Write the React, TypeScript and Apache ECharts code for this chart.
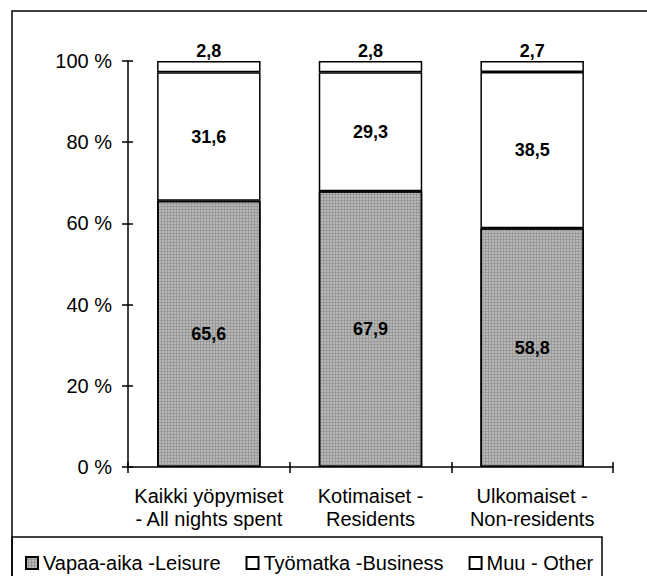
import React, { useEffect, useRef } from "react";
import * as echarts from "echarts";

const categories = [
  "Kaikki yöpymiset\n- All nights spent",
  "Kotimaiset -\nResidents",
  "Ulkomaiset -\nNon-residents",
];
const seriesNames = ["Vapaa-aika -Leisure", "Työmatka -Business", "Muu - Other"];
const leisure = [65.6, 67.9, 58.8];
const business = [31.6, 29.3, 38.5];
const other = [2.8, 2.8, 2.7];
const yMin = 0;
const yMax = 100;
const yStep = 20;

const FONT = "'Liberation Sans', Arial, sans-serif";
const fmt = (v: number) => v.toFixed(1).replace(".", ",");

export default function App() {
  const ref = useRef<HTMLDivElement>(null);
  useEffect(() => {
    if (!ref.current) return;
    const chart = echarts.init(ref.current, undefined, { renderer: "svg" });
    const barStyle = (color: string, decal?: any) => ({
      color,
      borderColor: "#000",
      borderWidth: 1.5,
      ...(decal ? { decal } : {}),
    });
    const label = (position: any) => ({
      show: true,
      position,
      distance: 1,
      formatter: (p: any) => fmt(p.value),
      fontFamily: FONT,
      fontSize: 18,
      fontWeight: "bold",
      color: "#000",
    });
    chart.setOption({
      animation: false,
      backgroundColor: "#fff",
      textStyle: { fontFamily: FONT },
      grid: { left: 128, right: 34, top: 61, bottom: 109 },
      xAxis: [
        {
          type: "category",
          data: categories,
          axisLine: { lineStyle: { color: "#000", width: 1.5 } },
          axisTick: { show: true, inside: false, length: 6, lineStyle: { color: "#000", width: 1.5 } },
          axisLabel: {
            interval: 0,
            color: "#000",
            fontSize: 20,
            fontFamily: FONT,
            lineHeight: 23,
            margin: 17,
          },
        },
        {
          type: "category",
          data: categories,
          position: "bottom",
          axisLine: { show: false },
          axisTick: { show: true, inside: true, length: 5, lineStyle: { color: "#000", width: 1.5 } },
          axisLabel: { show: false },
        },
      ],
      yAxis: [
        {
          type: "value",
          min: yMin,
          max: yMax,
          interval: yStep,
          splitLine: { show: false },
          axisLine: { show: true, lineStyle: { color: "#000", width: 1.5 } },
          axisTick: { show: true, inside: false, length: 6, lineStyle: { color: "#000", width: 1.5 } },
          axisLabel: {
            color: "#000",
            fontSize: 20,
            fontFamily: FONT,
            margin: 16,
            formatter: (v: number) => `${v} %`,
          },
        },
        {
          type: "value",
          min: yMin,
          max: yMax,
          interval: yStep,
          position: "left",
          splitLine: { show: false },
          axisLine: { show: false },
          axisTick: { show: true, inside: true, length: 5, lineStyle: { color: "#000", width: 1.5 } },
          axisLabel: { show: false },
        },
      ],
      legend: {
        left: 20,
        top: 548,
        icon: "rect",
        itemWidth: 12,
        itemHeight: 12,
        itemGap: 25,
        textStyle: { fontFamily: FONT, fontSize: 20, color: "#000" },
        data: seriesNames,
      },
      series: [
        {
          name: seriesNames[0],
          type: "bar",
          stack: "total",
          barWidth: "64%",
          data: leisure,
          itemStyle: barStyle("#9a9a9a", {
            symbol: "rect",
            symbolSize: 1,
            dashArrayX: [2, 1],
            dashArrayY: [2, 1],
            color: "rgba(255,255,255,0.3)",
          }),
          label: label("inside"),
        },
        {
          name: seriesNames[1],
          type: "bar",
          stack: "total",
          data: business,
          itemStyle: barStyle("#ffffff"),
          label: label("inside"),
        },
        {
          name: seriesNames[2],
          type: "bar",
          stack: "total",
          data: other,
          itemStyle: barStyle("#ffffff"),
          label: label("top"),
        },
      ],
      graphic: [
        {
          type: "rect",
          shape: { x: 12, y: 11, width: 640, height: 580 },
          style: { fill: "none", stroke: "#000", lineWidth: 1.5 },
          silent: true,
        },
        {
          type: "rect",
          shape: { x: 12, y: 537, width: 590, height: 60 },
          style: { fill: "none", stroke: "#000", lineWidth: 1.5 },
          silent: true,
        },
      ],
    });
    return () => chart.dispose();
  }, []);
  return (
    <div
      ref={ref}
      style={{ position: "fixed", left: 0, top: 0, width: 647, height: 576 }}
    />
  );
}
